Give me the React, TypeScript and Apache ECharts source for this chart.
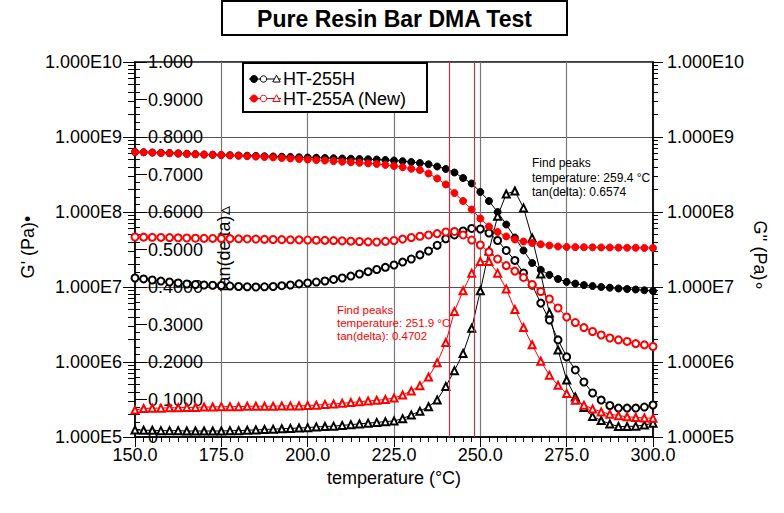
import React, { useEffect, useRef } from 'react';
import * as echarts from 'echarts';

const FONT = '"Liberation Sans", Arial, Helvetica, sans-serif';

// Temperature (°C)
const temps = [
  150, 152.5, 155, 157.5, 160, 162.5, 165, 167.5, 170, 172.5,
  175, 177.5, 180, 182.5, 185, 187.5, 190, 192.5, 195, 197.5,
  200, 202.5, 205, 207.5, 210, 212.5, 215, 217.5, 220, 222.5,
  225, 227.5, 230, 232.5, 235, 237.5, 240, 242.5, 245, 247.5,
  250, 252.5, 255, 257.5, 260, 262.5, 265, 267.5, 270, 272.5,
  275, 277.5, 280, 282.5, 285, 287.5, 290, 292.5, 295, 297.5,
  300,
];

// HT-255H
const gPrimeH = [
  6.31e8, 6.26e8, 6.21e8, 6.16e8, 6.12e8, 6.05e8, 5.98e8, 5.91e8, 5.84e8, 5.80e8,
  5.75e8, 5.71e8, 5.67e8, 5.63e8, 5.59e8, 5.54e8, 5.50e8, 5.46e8, 5.42e8, 5.37e8,
  5.33e8, 5.29e8, 5.25e8, 5.21e8, 5.17e8, 5.13e8, 5.09e8, 5.05e8, 5.01e8, 4.94e8,
  4.86e8, 4.76e8, 4.64e8, 4.50e8, 4.33e8, 4.04e8, 3.75e8, 3.36e8, 2.84e8, 2.40e8,
  1.85e8, 1.40e8, 1.00e8, 6.81e7, 4.57e7, 3.07e7, 2.09e7, 1.69e7, 1.45e7, 1.28e7,
  1.17e7, 1.11e7, 1.06e7, 1.03e7, 1.00e7, 9.8e6, 9.55e6, 9.4e6, 9.26e6, 9.05e6,
  8.84e6,
];
const gDoublePrimeH = [
  1.318e7, 1.28e7, 1.24e7, 1.20e7, 1.166e7, 1.13e7, 1.096e7, 1.08e7, 1.063e7, 1.055e7,
  1.047e7, 1.03e7, 1.015e7, 1.007e7, 1.0e7, 1.007e7, 1.015e7, 1.04e7, 1.063e7, 1.10e7,
  1.131e7, 1.165e7, 1.202e7, 1.26e7, 1.318e7, 1.40e7, 1.49e7, 1.60e7, 1.711e7, 1.83e7,
  1.965e7, 2.15e7, 2.36e7, 2.68e7, 3.02e7, 3.60e7, 4.40e7, 4.94e7, 5.58e7, 6.03e7,
  5.93e7, 5.25e7, 4.17e7, 3.07e7, 2.26e7, 1.54e7, 1.06e7, 6.1e6, 3.63e6, 1.97e6,
  1.17e6, 7.83e5, 5.41e5, 3.86e5, 3.11e5, 2.63e5, 2.43e5, 2.43e5, 2.43e5, 2.51e5,
  2.67e5,
];
const tanDeltaH = [
  0.019, 0.018, 0.018, 0.017, 0.017, 0.017, 0.016, 0.016, 0.016, 0.016,
  0.016, 0.017, 0.017, 0.018, 0.019, 0.020, 0.021, 0.022, 0.023, 0.024,
  0.025, 0.027, 0.028, 0.029, 0.031, 0.033, 0.035, 0.037, 0.039, 0.041,
  0.043, 0.049, 0.059, 0.069, 0.081, 0.099, 0.135, 0.177, 0.223, 0.290,
  0.390, 0.496, 0.589, 0.648, 0.656, 0.611, 0.531, 0.435, 0.331, 0.232,
  0.152, 0.107, 0.079, 0.055, 0.044, 0.035, 0.028, 0.028, 0.029, 0.032,
  0.037,
];

// HT-255A (New)
const gPrimeA = [
  6.31e8, 6.25e8, 6.19e8, 6.13e8, 6.07e8, 6.00e8, 5.94e8, 5.88e8, 5.83e8, 5.79e8,
  5.75e8, 5.68e8, 5.61e8, 5.55e8, 5.48e8, 5.41e8, 5.34e8, 5.25e8, 5.17e8, 5.09e8,
  5.01e8, 4.93e8, 4.85e8, 4.77e8, 4.69e8, 4.61e8, 4.53e8, 4.45e8, 4.37e8, 4.25e8,
  4.11e8, 3.96e8, 3.77e8, 3.63e8, 3.26e8, 2.80e8, 2.33e8, 1.79e8, 1.40e8, 1.08e8,
  8.19e7, 6.41e7, 5.41e7, 4.72e7, 4.30e7, 4.04e7, 3.86e7, 3.71e7, 3.58e7, 3.47e7,
  3.42e7, 3.40e7, 3.39e7, 3.38e7, 3.37e7, 3.36e7, 3.35e7, 3.34e7, 3.33e7, 3.32e7,
  3.31e7,
];
const gDoublePrimeA = [
  4.64e7, 4.62e7, 4.60e7, 4.58e7, 4.56e7, 4.53e7, 4.50e7, 4.47e7, 4.45e7, 4.44e7,
  4.43e7, 4.41e7, 4.39e7, 4.37e7, 4.35e7, 4.32e7, 4.30e7, 4.28e7, 4.26e7, 4.25e7,
  4.23e7, 4.21e7, 4.19e7, 4.16e7, 4.12e7, 4.08e7, 4.04e7, 4.00e7, 3.98e7, 4.06e7,
  4.17e7, 4.35e7, 4.57e7, 4.75e7, 4.94e7, 5.15e7, 5.41e7, 5.50e7, 4.94e7, 4.23e7,
  3.63e7, 2.93e7, 2.36e7, 1.93e7, 1.63e7, 1.34e7, 1.08e7, 8.71e6, 6.92e6, 5.25e6,
  3.98e6, 3.36e6, 2.88e6, 2.55e6, 2.29e6, 2.09e6, 1.97e6, 1.88e6, 1.76e6, 1.69e6,
  1.61e6,
];
const tanDeltaA = [
  0.072, 0.076, 0.077, 0.077, 0.078, 0.078, 0.079, 0.079, 0.080, 0.080,
  0.081, 0.081, 0.081, 0.082, 0.082, 0.082, 0.082, 0.083, 0.083, 0.083,
  0.084, 0.085, 0.087, 0.088, 0.090, 0.092, 0.094, 0.096, 0.098, 0.100,
  0.104, 0.112, 0.123, 0.137, 0.160, 0.198, 0.252, 0.335, 0.390, 0.437,
  0.468, 0.468, 0.437, 0.395, 0.340, 0.292, 0.246, 0.202, 0.165, 0.138,
  0.116, 0.098, 0.085, 0.075, 0.067, 0.061, 0.057, 0.054, 0.052, 0.051,
  0.050,
];

// G'' peak marker temperatures
const peakMarkers = [241.1, 248.1];

const sampleNames = ['HT-255H', 'HT-255A (New)'];
const peakNotes = [
  ['Find peaks', 'temperature: 259.4 °C', 'tan(delta): 0.6574'],
  ['Find peaks', 'temperature: 251.9 °C', 'tan(delta): 0.4702'],
];

const pair = (vals: number[]) => temps.map((t, i) => [t, vals[i]]);

const logMinor: number[] = [];
for (let n = 5; n < 10; n++) {
  for (let k = 2; k <= 9; k++) logMinor.push(n + Math.log10(k));
}

const sciLabel = (v: number) => '1.000E' + Math.round(Math.log10(v));
const tanLabel = (v: number) => {
  if (Math.abs(v) < 1e-9) return '0';
  if (Math.abs(v - 1) < 1e-9) return '1.000';
  return v.toFixed(4);
};

const BLACK = '#000000';
const RED = '#ff0000';
const FS = 18;

function makeSeries(name: string, vals: number[], yIdx: number, symbol: string, color: string, z: number, extra: any = {}) {
  return {
    name,
    type: 'line',
    xAxisIndex: 0,
    yAxisIndex: yIdx,
    data: pair(vals),
    symbol,
    symbolSize: 7,
    showSymbol: true,
    lineStyle: { color, width: 1 },
    itemStyle: { color, borderColor: color, borderWidth: 1 },
    z,
    silent: true,
    ...extra,
  };
}

function legendRow(y: number, color: string, label: string) {
  return [
    { type: 'line', shape: { x1: 249, y1: y, x2: 281, y2: y }, style: { stroke: color, lineWidth: 1 }, z: 101 },
    { type: 'circle', shape: { cx: 254, cy: y, r: 3.5 }, style: { fill: color, stroke: color }, z: 102 },
    { type: 'circle', shape: { cx: 263.5, cy: y, r: 3.2 }, style: { fill: '#fff', stroke: color, lineWidth: 1 }, z: 102 },
    { type: 'polygon', shape: { points: [[276.5, y - 3.8], [272.8, y + 3], [280.2, y + 3]] }, style: { fill: '#fff', stroke: color, lineWidth: 1 }, z: 102 },
    { type: 'text', x: 283, y: y, style: { text: label, fill: '#000', fontSize: FS, fontFamily: FONT, verticalAlign: 'middle', align: 'left' }, z: 102 },
  ];
}

export default function App() {
  const ref = useRef<HTMLDivElement>(null);
  useEffect(() => {
    const chart = echarts.init(ref.current!, null, { renderer: 'svg' });
    const option: any = {
      animation: false,
      backgroundColor: '#ffffff',
      textStyle: { fontFamily: FONT },
      grid: { left: 135, right: 131, top: 62, bottom: 76, show: true, borderColor: '#000', borderWidth: 1.5, backgroundColor: 'transparent' },
      xAxis: [{
        type: 'value', min: 150, max: 300, interval: 25,
        axisLine: { show: true, lineStyle: { color: '#000', width: 1.5 } },
        axisTick: { show: true, length: 10, lineStyle: { color: '#000' } },
        minorTick: { show: true, splitNumber: 10, length: 5, lineStyle: { color: '#000' } },
        axisLabel: { formatter: (v: number) => v.toFixed(1), fontSize: FS, color: '#000', margin: 9, fontFamily: FONT },
        splitLine: { show: true, lineStyle: { color: '#777', width: 1.2 } },
      }],
      yAxis: [
        {
          type: 'log', logBase: 10, min: 1e5, max: 1e10, position: 'left',
          axisLine: { show: true, lineStyle: { color: '#000', width: 1.5 } },
          axisTick: { show: true, length: 12, lineStyle: { color: '#000' } },
          axisLabel: { formatter: sciLabel, fontSize: FS, color: '#000', margin: 13, fontFamily: FONT },
          splitLine: { show: true, lineStyle: { color: '#555', width: 1.2 } },
        },
        {
          type: 'value', min: 0, max: 1, interval: 0.1, position: 'left', offset: 0,
          axisLine: { show: false },
          axisTick: { show: true, inside: true, length: 12, lineStyle: { color: '#000' } },
          minorTick: { show: true, splitNumber: 5, length: 5, lineStyle: { color: '#000' } },
          axisLabel: { inside: true, formatter: tanLabel, fontSize: FS, color: '#000', margin: 13, fontFamily: FONT },
          splitLine: { show: false },
        },
        {
          type: 'log', logBase: 10, min: 1e5, max: 1e10, position: 'right',
          axisLine: { show: true, lineStyle: { color: '#000', width: 1.5 } },
          axisTick: { show: true, length: 10, lineStyle: { color: '#000' } },
          axisLabel: { formatter: sciLabel, fontSize: FS, color: '#000', margin: 14, fontFamily: FONT },
          splitLine: { show: false },
        },
        {
          type: 'value', min: 5, max: 10, position: 'left', offset: 0,
          axisLine: { show: false }, axisLabel: { show: false }, splitLine: { show: false },
          axisTick: { show: true, customValues: logMinor, length: 7, lineStyle: { color: '#000' } },
        },
        {
          type: 'value', min: 5, max: 10, position: 'right', offset: 0,
          axisLine: { show: false }, axisLabel: { show: false }, splitLine: { show: false },
          axisTick: { show: true, customValues: logMinor, length: 5, lineStyle: { color: '#000' } },
        },
      ],
      series: [
        makeSeries("G' " + sampleNames[0], gPrimeH, 0, 'circle', BLACK, 3, {
          markLine: {
            silent: true, symbol: 'none', label: { show: false },
            lineStyle: { color: '#b8354a', width: 1.2, type: 'solid' },
            data: peakMarkers.map((t) => ({ xAxis: t })),
          },
        }),
        makeSeries("G'' " + sampleNames[0], gDoublePrimeH, 2, 'emptyCircle', BLACK, 3),
        makeSeries('tan(delta) ' + sampleNames[0], tanDeltaH, 1, 'emptyTriangle', BLACK, 3),
        makeSeries("G' " + sampleNames[1], gPrimeA, 0, 'circle', RED, 4),
        makeSeries("G'' " + sampleNames[1], gDoublePrimeA, 2, 'emptyCircle', RED, 4),
        makeSeries('tan(delta) ' + sampleNames[1], tanDeltaA, 1, 'emptyTriangle', RED, 4),
      ],
      graphic: [
        { type: 'rect', shape: { x: 222, y: 1, width: 345, height: 34 }, style: { fill: '#fff', stroke: '#000', lineWidth: 2 }, z: 100 },
        { type: 'text', x: 394.5, y: 18.5, style: { text: 'Pure Resin Bar DMA Test', fill: '#000', fontSize: 23, fontWeight: 'bold', fontFamily: FONT, align: 'center', verticalAlign: 'middle' }, z: 101 },
        { type: 'rect', shape: { x: 243, y: 63, width: 184, height: 49 }, style: { fill: '#fff', stroke: '#000', lineWidth: 2 }, z: 100 },
        ...legendRow(79, BLACK, sampleNames[0]),
        ...legendRow(98.5, RED, sampleNames[1]),
        { type: 'text', x: 532, y: 156, style: { text: peakNotes[0].join('\n'), fill: '#000', fontSize: 12, lineHeight: 14.5, fontFamily: FONT, align: 'left', verticalAlign: 'top' }, z: 100 },
        { type: 'text', x: 337, y: 303.5, style: { text: peakNotes[1].join('\n'), fill: RED, fontSize: 11.5, lineHeight: 13, fontFamily: FONT, align: 'left', verticalAlign: 'top' }, z: 100 },
        { type: 'text', x: 28, y: 247, rotation: Math.PI / 2, style: { text: "G' (Pa)•", fill: '#000', fontSize: FS, fontFamily: FONT, align: 'center', verticalAlign: 'middle' }, z: 100 },
        { type: 'text', x: 224, y: 249, rotation: Math.PI / 2, style: { text: 'tan(delta)▵', fill: '#000', fontSize: FS, fontFamily: FONT, align: 'center', verticalAlign: 'middle' }, z: 1 },
        { type: 'text', x: 760, y: 256, rotation: -Math.PI / 2, style: { text: "G'' (Pa)∘", fill: '#000', fontSize: FS, fontFamily: FONT, align: 'center', verticalAlign: 'middle' }, z: 100 },
        { type: 'text', x: 394, y: 478, style: { text: 'temperature (°C)', fill: '#000', fontSize: FS, fontFamily: FONT, align: 'center', verticalAlign: 'middle' }, z: 100 },
      ],
    };
    chart.setOption(option);
    return () => chart.dispose();
  }, []);
  return <div ref={ref} style={{ position: 'absolute', left: 0, top: 0, width: 784, height: 513, background: '#fff' }} />;
}
